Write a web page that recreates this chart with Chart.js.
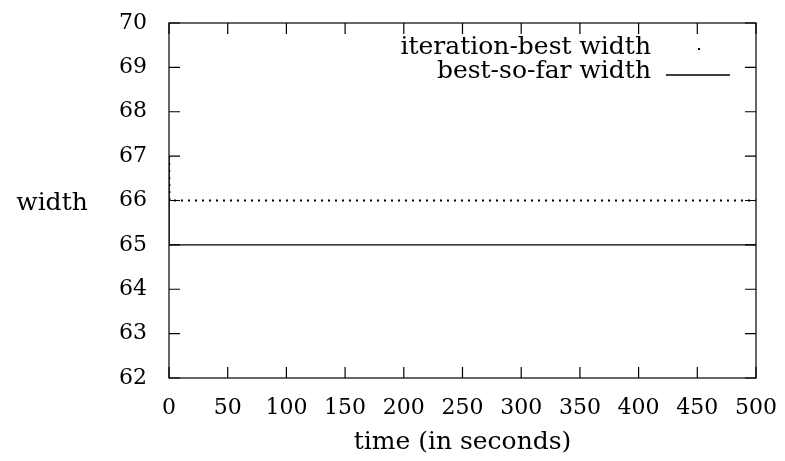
<!DOCTYPE html>
<html>
<head>
<meta charset="utf-8">
<script src="https://cdn.jsdelivr.net/npm/chart.js@4/dist/chart.umd.min.js"></script>
<style>
  html, body { margin: 0; padding: 0; background: #fff; }
  #wrap { width: 785px; height: 461px; }
</style>
</head>
<body>
<div id="wrap"><canvas id="chart"></canvas></div>
<script>
const iterTimes = [0, 0.3, 500];
const iterWidths = [67, 66, 66];

const bestTimes = [0, 1, 500];
const bestWidths = [67, 65, 65];

const xTicks = [0, 50, 100, 150, 200, 250, 300, 350, 400, 450, 500];
const yTicks = [62, 63, 64, 65, 66, 67, 68, 69, 70];

const FONT = "'DejaVu Serif', 'Liberation Serif', serif";
const TICK_SIZE = 22;
const TEXT_SIZE = 25;

const toPoints = (xs, ys) => xs.map((x, i) => ({ x: x, y: ys[i] }));

// ticks pointing inward on all four sides, plus the frame
const frameTicks = {
  id: "frameTicks",
  afterDraw(chart) {
    const { ctx, chartArea: a, scales } = chart;
    const len = 11;
    ctx.save();
    ctx.strokeStyle = "#000";
    ctx.lineWidth = 1.2;
    ctx.strokeRect(a.left, a.top, a.right - a.left, a.bottom - a.top);
    ctx.beginPath();
    xTicks.forEach((v) => {
      const px = scales.x.getPixelForValue(v);
      ctx.moveTo(px, a.bottom);
      ctx.lineTo(px, a.bottom - len);
      ctx.moveTo(px, a.top);
      ctx.lineTo(px, a.top + len);
    });
    yTicks.forEach((v) => {
      const py = scales.y.getPixelForValue(v);
      ctx.moveTo(a.left, py);
      ctx.lineTo(a.left + len, py);
      ctx.moveTo(a.right, py);
      ctx.lineTo(a.right - len, py);
    });
    ctx.stroke();

    // y axis title, horizontal
    ctx.fillStyle = "#000";
    ctx.font = TEXT_SIZE + "px " + FONT;
    ctx.textAlign = "center";
    ctx.textBaseline = "middle";
    ctx.fillText("width", 52, (a.top + a.bottom) / 2 + 3);

    // legend in the top right corner
    const ds = chart.data.datasets;
    ctx.textAlign = "right";
    const textRight = 651;
    ctx.fillText(ds[0].label, textRight, 47);
    ctx.fillText(ds[1].label, textRight, 71);
    ctx.fillRect(698, 48, 2, 2);
    ctx.beginPath();
    ctx.lineWidth = 1.3;
    ctx.moveTo(666, 75);
    ctx.lineTo(730, 75);
    ctx.stroke();
    ctx.restore();
  },
};

new Chart(document.getElementById("chart"), {
  type: "line",
  data: {
    datasets: [
      {
        label: "iteration-best width",
        data: toPoints(iterTimes, iterWidths),
        borderColor: "#000",
        borderWidth: 2.2,
        borderDash: [2, 5],
        pointRadius: 0,
        fill: false,
      },
      {
        label: "best-so-far width",
        data: toPoints(bestTimes, bestWidths),
        borderColor: "#000",
        borderWidth: 1.3,
        stepped: "after",
        pointRadius: 0,
        fill: false,
      },
    ],
  },
  options: {
    responsive: true,
    maintainAspectRatio: false,
    animation: false,
    layout: { padding: { top: 23, right: 29, left: 0, bottom: 0 } },
    plugins: {
      legend: { display: false },
      tooltip: { enabled: false },
    },
    scales: {
      x: {
        type: "linear",
        min: 0,
        max: 500,
        afterBuildTicks: (scale) => {
          scale.ticks = xTicks.map((v) => ({ value: v }));
        },
        afterFit: (scale) => {
          scale.height = 83;
          scale.paddingLeft = 0;
          scale.paddingRight = 0;
        },
        grid: { display: false },
        border: { display: false },
        ticks: {
          color: "#000",
          font: { family: FONT, size: TICK_SIZE },
          padding: 9,
          maxRotation: 0,
          autoSkip: false,
        },
        title: {
          display: true,
          text: "time (in seconds)",
          color: "#000",
          font: { family: FONT, size: TEXT_SIZE },
          padding: { top: 3 },
        },
      },
      y: {
        type: "linear",
        min: 62,
        max: 70,
        afterBuildTicks: (scale) => {
          scale.ticks = yTicks.map((v) => ({ value: v }));
        },
        afterFit: (scale) => {
          scale.width = 169;
          scale.paddingTop = 0;
          scale.paddingBottom = 0;
        },
        grid: { display: false },
        border: { display: false },
        ticks: {
          color: "#000",
          font: { family: FONT, size: TICK_SIZE },
          padding: 14,
        },
      },
    },
  },
  plugins: [frameTicks],
});
</script>
</body>
</html>
